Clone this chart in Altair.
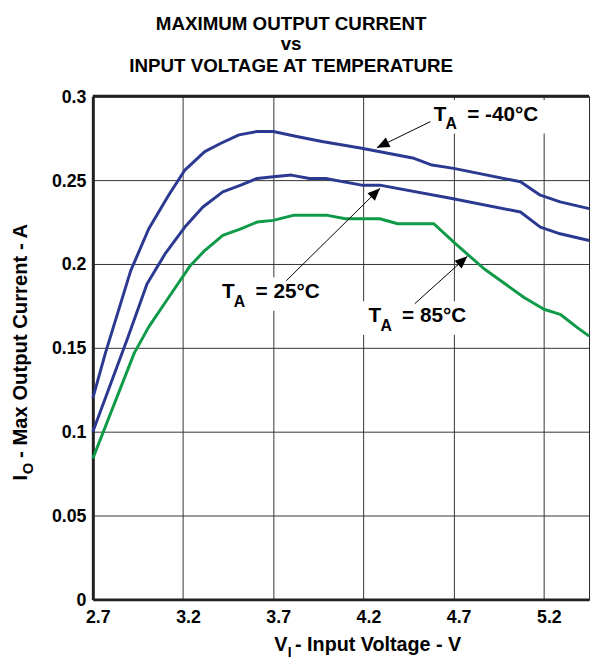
import math
import altair as alt
import pandas as pd

# ---------------- data ----------------
series_names = ["-40°C", "25°C", "85°C"]

v_m40 = [2.70, 2.77, 2.91, 3.01, 3.12, 3.21, 3.32, 3.41, 3.51, 3.61, 3.70, 3.83, 3.97, 4.19, 4.48, 4.58, 4.70, 5.07, 5.18, 5.29, 5.45]
i_m40 = [0.120, 0.147, 0.196, 0.221, 0.241, 0.256, 0.267, 0.272, 0.277, 0.279, 0.279, 0.276, 0.273, 0.269, 0.263, 0.259, 0.257, 0.249, 0.241, 0.237, 0.233]

v_25 = [2.70, 2.89, 3.00, 3.10, 3.21, 3.31, 3.42, 3.52, 3.61, 3.70, 3.80, 3.90, 3.99, 4.19, 4.29, 4.69, 5.07, 5.18, 5.29, 5.45]
i_25 = [0.100, 0.155, 0.188, 0.206, 0.222, 0.234, 0.243, 0.247, 0.251, 0.252, 0.253, 0.251, 0.251, 0.247, 0.247, 0.239, 0.231, 0.222, 0.218, 0.214]

v_85 = [2.70, 2.93, 3.01, 3.12, 3.24, 3.32, 3.42, 3.52, 3.61, 3.70, 3.81, 4.00, 4.10, 4.29, 4.39, 4.59, 4.70, 4.87, 5.09, 5.20, 5.29, 5.38, 5.45]
i_85 = [0.084, 0.147, 0.1625, 0.180, 0.199, 0.208, 0.217, 0.221, 0.225, 0.226, 0.229, 0.229, 0.227, 0.227, 0.224, 0.224, 0.213, 0.197, 0.180, 0.173, 0.170, 0.1625, 0.157]

x_ticks = [2.7, 3.2, 3.7, 4.2, 4.7, 5.2]
y_ticks = [0, 0.05, 0.1, 0.15, 0.2, 0.25, 0.3]

title_lines = ["MAXIMUM OUTPUT CURRENT", "vs", "INPUT VOLTAGE AT TEMPERATURE"]

# annotations: label text parts, label anchor (data), arrow start / tip (data)
ann_main = ["= -40°C", "= 25°C", "= 85°C"]
ann_x = [4.589, 3.416, 4.228]
ann_y = [0.2855, 0.1798, 0.1654]
arr_x0 = [4.571, 3.772, 4.484]
arr_y0 = [0.2849, 0.190, 0.1763]
arr_x1 = [4.274, 4.292, 4.776]
arr_y1 = [0.2693, 0.2452, 0.2046]

# ---------------- layout / style ----------------
X_MIN, X_MAX = 2.7, 5.45
Y_MIN, Y_MAX = 0.0, 0.3
W, H = 503, 510
FONT = "Liberation Sans"
BLUE = "#2B3990"
GREEN = "#0F9A48"
INK = "#231F20"
ANN_SIZE = 21
SUB_SIZE = 16

AW = {" ": 278, "-": 333, ".": 278, "=": 584, "°": 400, "A": 722, "C": 722, "E": 667,
      "G": 778, "I": 278, "L": 611, "M": 833, "N": 722, "O": 778, "P": 667, "R": 722,
      "T": 611, "U": 722, "V": 667, "X": 667, "a": 556, "e": 556, "g": 611, "l": 278,
      "n": 611, "o": 611, "p": 611, "r": 389, "s": 556, "t": 333, "u": 611, "x": 556, "v": 556}
for d in "0123456789":
    AW[d] = 556


def tw(s, size):
    return sum(AW.get(c, 600) for c in s) * size / 1000.0


xs = alt.Scale(domain=[X_MIN, X_MAX], nice=False, zero=False)
ys = alt.Scale(domain=[Y_MIN, Y_MAX], nice=False, zero=False)

rows = []
for name, vv, ii in [(series_names[0], v_m40, i_m40), (series_names[1], v_25, i_25), (series_names[2], v_85, i_85)]:
    for k, (a, b) in enumerate(zip(vv, ii)):
        rows.append({"series": name, "v": a, "i": b, "k": k})
curves = pd.DataFrame(rows)

XAX = alt.Axis(values=x_ticks, format=".1f", labelFlush=False, labelOffset=5, labelPadding=9)
YAX = alt.Axis(values=y_ticks, format="~g", labelPadding=7, labelOffset=1)


def X(field):
    return alt.X(field, scale=xs, title=None, axis=XAX)


def Y(field):
    return alt.Y(field, scale=ys, title=None, axis=YAX)


lines = alt.Chart(curves).mark_line(strokeWidth=3, strokeJoin="round").encode(
    x=X("v:Q"),
    y=Y("i:Q"),
    color=alt.Color("series:N", scale=alt.Scale(domain=series_names, range=[BLUE, BLUE, GREEN]), legend=None),
    order=alt.Order("k:Q"),
)

layers = [lines]


def px(x, y):
    return ((x - X_MIN) / (X_MAX - X_MIN) * W, H - (y - Y_MIN) / (Y_MAX - Y_MIN) * H)


# white boxes behind annotation labels
for j in range(3):
    box_w = 34 + tw(ann_main[j], ANN_SIZE) + 10
    d = pd.DataFrame({"x": [ann_x[j]], "y": [ann_y[j]]})
    layers.append(
        alt.Chart(d).mark_rect(color="white", xOffset=-7, x2Offset=box_w, yOffset=-21, y2Offset=13).encode(
            x=X("x:Q"), x2="x:Q", y=Y("y:Q"), y2="y:Q")
    )

# annotation texts (T + subscript A + rest)
for j in range(3):
    parts = [("T", ANN_SIZE, 0, 0), ("A", SUB_SIZE, 12, 9), (ann_main[j], ANN_SIZE, 34, 0)]
    for t, size, dx, dy in parts:
        d = pd.DataFrame({"x": [ann_x[j]], "y": [ann_y[j]], "t": [t]})
        layers.append(
            alt.Chart(d).mark_text(align="left", baseline="alphabetic", font=FONT, fontWeight="bold",
                                   fontSize=size, dx=dx, dy=dy, color="black").encode(
                x=X("x:Q"), y=Y("y:Q"), text="t:N")
        )

# arrows
arr = pd.DataFrame({"x0": arr_x0, "y0": arr_y0, "x1": arr_x1, "y1": arr_y1})
angles = []
for j in range(3):
    p0 = px(arr_x0[j], arr_y0[j])
    p1 = px(arr_x1[j], arr_y1[j])
    angles.append((math.degrees(math.atan2(p1[0] - p0[0], -(p1[1] - p0[1]))) + 360) % 360)
arr["ang"] = angles

layers.append(
    alt.Chart(arr).mark_rule(color="black", strokeWidth=1).encode(
        x=X("x0:Q"), x2="x1:Q", y=Y("y0:Q"), y2="y1:Q")
)
layers.append(
    alt.Chart(arr).mark_point(shape="M0,0L-0.42,1L0.42,1Z", filled=True, size=650, color="black",
                              opacity=1, strokeWidth=0).encode(
        x=X("x1:Q"), y=Y("y1:Q"), angle=alt.Angle("ang:Q", scale=None))
)

# heavy top border
layers.append(
    alt.Chart(pd.DataFrame({"y": [Y_MAX]})).mark_rule(color=INK, strokeWidth=3).encode(y=Y("y:Q"))
)

# chart title (pixel positions relative to plot origin)
title_y = [-67, -46.5, -25]
for t, yy in zip(title_lines, title_y):
    layers.append(
        alt.Chart(pd.DataFrame({"t": [t]})).mark_text(align="center", baseline="alphabetic", font=FONT,
                                                     fontWeight="bold", fontSize=19, color="black").encode(
            x=alt.value(201), y=alt.value(yy), text="t:N")
    )

# x-axis title: V_I - Input Voltage - V
xt_parts = [("V", 20, 0, 0), ("I", 14, 13.5, 6), ("- Input Voltage - V", 20, 21, 0)]
for t, size, dx, dy in xt_parts:
    layers.append(
        alt.Chart(pd.DataFrame({"t": [t]})).mark_text(align="left", baseline="alphabetic", font=FONT,
                                                     fontWeight="bold", fontSize=size, dx=dx, dy=dy,
                                                     color="black").encode(
            x=alt.value(184), y=alt.value(562), text="t:N")
    )

# y-axis title: I_O - Max Output Current - A (rotated)
yt_size = 20.5
sub_o = 15
rest = "- Max Output Current - A"
gap_i = tw("I", yt_size) + 0.5
gap_rest = gap_i + tw("O", sub_o) + 5
total = gap_rest + tw(rest, yt_size)
y_start = (352 - 93) + total / 2
yt_parts = [("I", yt_size, 0, 0), ("O", sub_o, gap_i, 6), (rest, yt_size, gap_rest, 0)]
for t, size, dx, dy in yt_parts:
    layers.append(
        alt.Chart(pd.DataFrame({"t": [t]})).mark_text(align="left", baseline="alphabetic", font=FONT,
                                                     fontWeight="bold", fontSize=size, dx=dx, dy=dy,
                                                     angle=270, color="black").encode(
            x=alt.value(-67), y=alt.value(y_start), text="t:N")
    )

chart = alt.layer(*layers).properties(
    width=W, height=H,
    autosize=alt.AutoSizeParams(type="none"),
    padding={"left": 86, "top": 85, "right": 3, "bottom": 60},
).configure_view(
    stroke=INK, strokeWidth=1
).configure_axis(
    domainColor=INK, domainWidth=3, grid=True, gridColor="#333333", gridWidth=1,
    ticks=False, tickSize=0,
    labelFont=FONT, labelFontWeight="bold", labelFontSize=18, labelColor="black",
)

chart.save("out.html", embed_options={"renderer": "svg", "actions": False})
